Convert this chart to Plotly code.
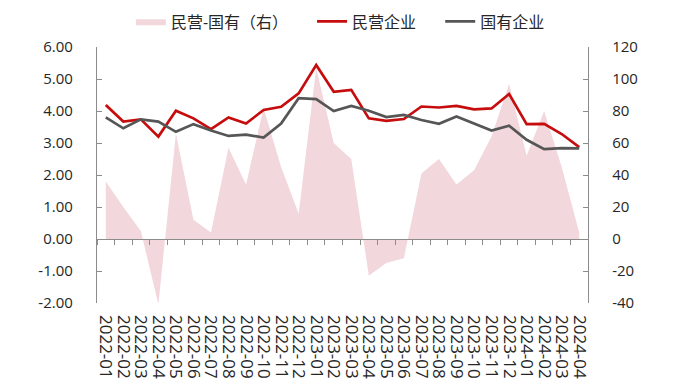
import plotly.graph_objects as go

months = ["2022-01","2022-02","2022-03","2022-04","2022-05","2022-06","2022-07","2022-08","2022-09","2022-10","2022-11","2022-12",
          "2023-01","2023-02","2023-03","2023-04","2023-05","2023-06","2023-07","2023-08","2023-09","2023-10","2023-11","2023-12",
          "2024-01","2024-02","2024-03","2024-04"]
private = [4.19, 3.67, 3.74, 3.20, 4.01, 3.77, 3.43, 3.80, 3.61, 4.03, 4.13, 4.55, 5.44, 4.60, 4.66, 3.77,
           3.69, 3.75, 4.14, 4.11, 4.16, 4.05, 4.08, 4.53, 3.59, 3.60, 3.28, 2.87]
state = [3.80, 3.46, 3.74, 3.67, 3.35, 3.59, 3.39, 3.22, 3.26, 3.17, 3.61, 4.40, 4.37, 4.00, 4.16, 4.01,
         3.81, 3.88, 3.72, 3.60, 3.83, 3.62, 3.39, 3.54, 3.10, 2.81, 2.84, 2.83]
spread = [36, 20, 5, -41, 66, 12, 4, 57, 34, 82, 45, 16, 107, 60, 50, -23, -15, -12, 41, 50, 34, 43, 64, 97, 52, 80, 45, 4]

left_ticks = [-2, -1, 0, 1, 2, 3, 4, 5, 6]
right_ticks = [-40, -20, 0, 20, 40, 60, 80, 100, 120]

FONT = "Open Sans, Noto Sans CJK SC, sans-serif"
AXIS = "#8c8c8c"
TXT = "#262626"
PINK = "rgb(242,216,220)"

fig = go.Figure()
fig.add_trace(go.Scatter(x=months, y=spread, name="民营-国有（右）", mode="lines",
                         fill="tozeroy", fillcolor=PINK, line=dict(width=0, color=PINK),
                         xaxis="x", yaxis="y", legend="legend"))
fig.add_trace(go.Scatter(x=months, y=private, name="民营企业", mode="lines",
                         line=dict(color="#C60C0C", width=2.7), xaxis="x", yaxis="y2", legend="legend2"))
fig.add_trace(go.Scatter(x=months, y=state, name="国有企业", mode="lines",
                         line=dict(color="#565656", width=2.7), xaxis="x", yaxis="y2", legend="legend3"))
# invisible trace carrying the zero-line axis with boundary ticks
fig.add_trace(go.Scatter(x=months, y=[None]*len(months), mode="lines", showlegend=False,
                         hoverinfo="skip", xaxis="x2", yaxis="y2"))

leg = dict(orientation="h", y=1.10, yanchor="middle", xanchor="left",
           font=dict(size=16, color=TXT), itemwidth=30, bgcolor="rgba(0,0,0,0)")

fig.update_layout(
    width=668, height=380,
    margin=dict(l=89, r=88, t=39, b=85, autoexpand=False),
    paper_bgcolor="white", plot_bgcolor="white",
    font=dict(family=FONT, color=TXT, size=15),
    showlegend=True,
    legend=dict(leg, x=0.069),
    legend2=dict(leg, x=0.438),
    legend3=dict(leg, x=0.699),
    xaxis=dict(type="category", categoryorder="array", categoryarray=months,
               tickmode="array", tickvals=months, ticktext=months,
               range=[-0.5, len(months) - 0.5], showline=False, showgrid=False, zeroline=False,
               ticks="", tickangle=90, tickfont=dict(size=17, color=TXT), ticklabelstandoff=11,
               automargin=False),
    xaxis2=dict(type="category", categoryorder="array", categoryarray=months,
                tickmode="array", tickvals=months,
                matches="x", overlaying="x", anchor="free", position=0.25,
                showline=True, linecolor=AXIS, linewidth=1.3, showgrid=False, zeroline=False,
                ticks="outside", ticklen=5, tickwidth=1.3, tickcolor=AXIS, tickson="boundaries",
                showticklabels=False),
    yaxis=dict(side="right", range=[-40, 120], tickvals=right_ticks, ticktext=[str(v) for v in right_ticks],
               showline=True, linecolor=AXIS, linewidth=1.3, ticks="inside", ticklen=5, tickwidth=1.3,
               tickcolor=AXIS, showgrid=False, zeroline=False, tickfont=dict(size=15, color=TXT),
               ticklabelstandoff=20, automargin=False),
    yaxis2=dict(side="left", overlaying="y", range=[-2, 6], tickvals=left_ticks,
                ticktext=[f"{v:.2f}" for v in left_ticks],
                showline=True, linecolor=AXIS, linewidth=1.3, ticks="inside", ticklen=5, tickwidth=1.3,
                tickcolor=AXIS, showgrid=False, zeroline=False, tickfont=dict(size=15, color=TXT),
                ticklabelstandoff=20, automargin=False),
)

fig.write_html("out.html")
